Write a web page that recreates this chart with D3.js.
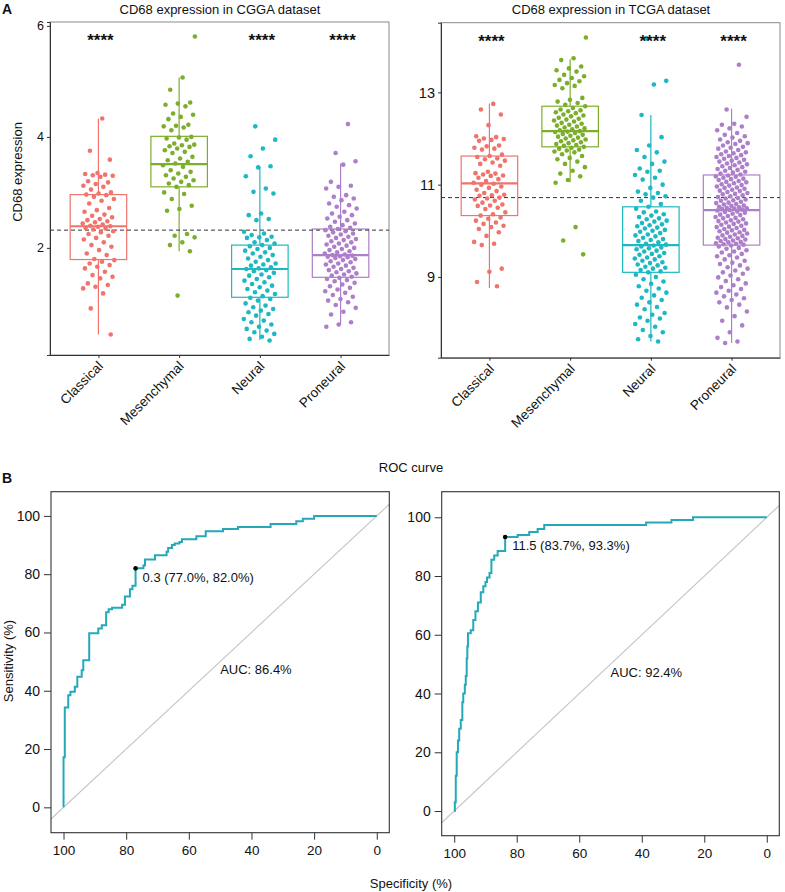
<!DOCTYPE html>
<html><head><meta charset="utf-8">
<script src="https://cdn.jsdelivr.net/npm/d3@7/dist/d3.min.js"></script>
<style>
body{margin:0;background:#fff}
svg{display:block}
text{font-family:"Liberation Sans",Arial,Helvetica,sans-serif;fill:#111}
</style>
</head><body>
<svg id="chart" width="785" height="892"></svg>
<script>
// ---------------- DATA ----------------
const subtypes = ["Classical", "Mesenchymal", "Neural", "Proneural"];
const subtypeColors = ["#F0736C", "#7CAE2C", "#1DB8C2", "#AD7FCA"];

// CGGA CD68 expression per subtype
const cggaClassical = [4.33,3.75,3.59,3.35,3.33,3.32,3.31,3.30,3.28,3.20,3.18,3.15,3.12,3.10,3.05,3.00,2.98,2.96,2.95,2.92,2.88,2.85,2.80,2.72,2.68,2.65,2.60,2.58,2.55,2.52,2.50,2.48,2.46,2.44,2.42,2.40,2.39,2.38,2.36,2.35,2.33,2.30,2.28,2.25,2.22,2.18,2.15,2.10,2.05,2.02,1.96,1.90,1.87,1.80,1.78,1.75,1.72,1.69,1.66,1.63,1.57,1.51,1.48,1.45,1.36,1.33,1.30,1.27,1.18,0.91,0.44];
const cggaMesenchymal = [5.81,5.07,4.85,4.62,4.60,4.58,4.55,4.42,4.40,4.36,4.32,4.22,4.20,4.19,4.17,4.12,4.00,3.99,3.97,3.95,3.88,3.86,3.85,3.83,3.82,3.79,3.76,3.73,3.71,3.64,3.61,3.58,3.55,3.52,3.49,3.46,3.40,3.37,3.34,3.31,3.28,3.25,3.22,3.19,3.16,3.13,3.10,3.00,2.97,2.88,2.76,2.70,2.67,2.25,2.22,2.19,2.10,2.05,1.94,1.14];
const cggaNeural = [4.19,3.95,3.79,3.65,3.47,3.45,3.29,3.07,3.01,2.98,2.62,2.59,2.52,2.50,2.29,2.26,2.23,2.20,2.19,2.18,2.14,2.10,2.08,2.05,2.03,2.00,1.98,1.95,1.92,1.90,1.87,1.84,1.81,1.78,1.75,1.72,1.70,1.68,1.65,1.63,1.62,1.60,1.58,1.55,1.52,1.50,1.47,1.44,1.41,1.38,1.35,1.32,1.29,1.26,1.23,1.20,1.17,1.13,1.10,1.08,1.05,1.00,0.96,0.93,0.90,0.87,0.84,0.81,0.78,0.72,0.69,0.66,0.62,0.58,0.54,0.51,0.48,0.45,0.40,0.36,0.33];
const cggaProneural = [4.23,3.71,3.56,3.50,3.19,3.12,3.10,3.07,2.95,2.92,2.89,2.86,2.80,2.77,2.74,2.71,2.65,2.62,2.59,2.56,2.53,2.50,2.47,2.44,2.41,2.38,2.36,2.34,2.32,2.30,2.28,2.26,2.24,2.22,2.20,2.18,2.16,2.14,2.12,2.10,2.08,2.06,2.04,2.02,2.00,1.98,1.96,1.94,1.92,1.90,1.88,1.87,1.86,1.85,1.84,1.83,1.82,1.80,1.78,1.76,1.74,1.72,1.70,1.68,1.66,1.64,1.62,1.60,1.58,1.56,1.54,1.52,1.50,1.48,1.46,1.44,1.42,1.40,1.37,1.34,1.31,1.28,1.25,1.22,1.19,1.15,1.12,1.08,1.05,1.02,0.97,0.92,0.85,0.80,0.66,0.62,0.58];
// box statistics: lower whisker, Q1, median, Q3, upper whisker
const cggaLow = [0.44, 1.94, 0.34, 0.61];
const cggaQ1 = [1.79, 3.10, 1.11, 1.47];
const cggaMedian = [2.39, 3.51, 1.62, 1.87];
const cggaQ3 = [2.96, 4.01, 2.05, 2.34];
const cggaHigh = [4.33, 5.07, 3.46, 3.52];
const cggaSignif = ["****", "", "****", "****"];
const cggaCutoff = 2.32;
const cggaTicks = [2, 4, 6];

// TCGA CD68 expression per subtype
const tcgaClassical = [12.75,12.63,12.52,12.29,12.05,12.03,12.00,11.99,11.97,11.95,11.85,11.83,11.80,11.78,11.76,11.65,11.62,11.60,11.57,11.55,11.52,11.48,11.45,11.41,11.28,11.25,11.24,11.22,11.20,11.19,11.15,11.12,11.08,11.04,11.02,11.00,10.96,10.93,10.89,10.86,10.82,10.78,10.77,10.76,10.72,10.70,10.68,10.65,10.61,10.57,10.55,10.54,10.50,10.47,10.40,10.36,10.33,10.29,10.26,10.22,10.18,10.15,10.11,10.08,10.04,9.97,9.89,9.76,9.72,9.69,9.18,9.11,8.89,8.80];
const tcgaMesenchymal = [14.19,13.74,13.70,13.56,13.52,13.48,13.45,13.38,13.35,13.31,13.27,13.24,13.20,13.16,13.14,13.09,12.88,12.84,12.80,12.77,12.73,12.70,12.66,12.63,12.61,12.59,12.57,12.55,12.52,12.50,12.48,12.45,12.43,12.41,12.39,12.37,12.34,12.32,12.30,12.28,12.26,12.24,12.22,12.20,12.18,12.16,12.15,12.14,12.12,12.10,12.08,12.06,12.04,12.02,12.00,11.98,11.96,11.94,11.92,11.90,11.88,11.86,11.84,11.82,11.80,11.78,11.76,11.74,11.72,11.70,11.66,11.62,11.58,11.55,11.50,11.45,11.38,11.30,11.24,11.18,11.10,11.04,10.08,9.79,9.49];
const tcgaNeural = [14.17,13.25,13.17,12.51,12.03,11.85,11.75,11.70,11.60,11.50,11.45,11.35,11.30,11.28,11.21,11.15,11.11,11.00,10.93,10.85,10.82,10.79,10.75,10.72,10.65,10.58,10.52,10.48,10.42,10.40,10.36,10.33,10.30,10.27,10.25,10.22,10.20,10.17,10.14,10.12,10.10,10.07,10.05,10.02,10.00,9.98,9.95,9.92,9.90,9.88,9.85,9.82,9.80,9.78,9.75,9.72,9.70,9.68,9.66,9.64,9.62,9.60,9.57,9.55,9.52,9.50,9.48,9.45,9.42,9.40,9.38,9.35,9.32,9.30,9.27,9.25,9.22,9.20,9.18,9.15,9.12,9.10,9.05,9.00,8.95,8.90,8.85,8.80,8.75,8.70,8.66,8.60,8.55,8.50,8.45,8.40,8.35,8.30,8.22,8.18,8.12,8.10,8.05,7.98,7.92,7.85,7.80,7.72,7.65,7.60];
const tcgaProneural = [13.60,12.63,12.47,12.32,12.30,12.26,12.22,12.18,12.12,12.08,12.05,12.02,11.98,11.95,11.92,11.90,11.88,11.85,11.82,11.80,11.78,11.75,11.72,11.70,11.68,11.66,11.64,11.62,11.60,11.58,11.56,11.54,11.52,11.50,11.48,11.46,11.44,11.42,11.40,11.38,11.36,11.34,11.32,11.30,11.28,11.26,11.24,11.22,11.20,
  11.18,11.17,11.15,11.13,11.12,11.10,11.08,11.06,11.05,11.03,11.01,10.99,10.98,10.96,10.94,10.93,10.91,10.89,10.87,10.86,10.84,10.82,10.80,10.79,10.77,10.75,10.73,10.71,10.70,10.68,10.66,10.65,10.63,10.61,10.60,10.58,10.57,10.55,10.54,10.52,10.51,10.50,10.49,10.48,10.47,10.46,10.45,
  10.44,10.42,10.41,10.39,10.37,10.35,10.34,10.32,10.30,10.28,10.27,10.25,10.23,10.21,10.20,10.18,10.16,10.15,10.13,10.11,10.09,10.08,10.06,10.04,10.02,10.01,9.99,9.97,9.96,9.94,9.92,9.90,9.89,9.87,9.85,9.84,9.82,9.81,9.79,9.78,9.76,9.75,9.73,9.72,9.71,9.70,
  9.68,9.66,9.63,9.61,9.58,9.55,9.53,9.50,9.47,9.45,9.42,9.38,9.35,9.31,9.28,9.25,9.21,9.18,9.14,9.10,9.07,9.03,8.99,8.95,8.91,8.86,8.82,8.78,8.74,8.70,8.66,8.62,8.58,8.54,8.50,8.45,8.40,8.34,8.25,8.15,8.05,7.95,7.80,7.68,7.60,7.57];
const tcgaLow = [8.76, 11.05, 7.60, 7.57];
const tcgaQ1 = [10.33, 11.82, 9.10, 9.69];
const tcgaMedian = [11.03, 12.16, 9.69, 10.45];
const tcgaQ3 = [11.62, 12.70, 10.52, 11.21];
const tcgaHigh = [12.76, 13.72, 12.51, 12.65];
const tcgaSignif = ["****", "", "****", "****"];
const tcgaCutoff = 10.72;
const tcgaTicks = [9, 11, 13];

// ROC curves: specificity (%) where sensitivity rises, and sensitivity (%) reached
const rocCggaSpec = [100,100,99.6,98.5,97.8,96.4,95.6,94.2,93.7,91.8,88.9,87.8,86.4,85.6,84.5,81.3,80.4,78.8,78.0,77.0,74.5,74.0,70.8,67.1,66.6,65.4,64.5,63.0,62.2,57.6,54.6,49.1,44.3,33.9,25.7,23.6,20.0,0];
const rocCggaSens = [0,17.2,34.3,38.5,39.7,41.4,44.8,47.0,50.5,59.7,61.4,62.5,66.9,68.0,68.5,69.5,72.3,74.8,76.0,82.0,83.0,85.0,86.5,87.7,89.0,90.0,90.5,91.0,92.0,93.0,94.7,95.5,96.2,97.2,98.2,99.0,100,100];
const rocTcgaSpec = [100,99.8,99.5,99.2,98.8,98.4,97.9,97.4,97.1,96.6,96.3,96.0,95.8,95.6,94.7,93.9,93.2,92.4,91.5,90.7,90.0,89.5,88.7,88.1,87.2,86.1,83.7,79.7,76.0,73.3,71.2,38.6,30.5,23.6,0];
const rocTcgaSens = [0,3,12,20,24,28,31,37,40,43,46,52,56,60.5,61.5,65,68,71,74.5,76.5,78,79.5,81,85.5,87,88.5,93.3,94,95,96,97.4,98.2,99.1,100,100];
const rocCggaBest = [77.0, 82.0];
const rocTcgaBest = [83.7, 93.3];
const rocCggaBestLabel = "0.3 (77.0%, 82.0%)";
const rocTcgaBestLabel = "11.5 (83.7%, 93.3%)";
const rocCggaAUC = "AUC: 86.4%";
const rocTcgaAUC = "AUC: 92.4%";
const rocTicks = [0, 20, 40, 60, 80, 100];

// ---------------- DRAW ----------------
const svg = d3.select("#chart");
svg.append("rect").attr("width", 785).attr("height", 892).attr("fill", "#fff");

function boxPanel(o) {
  const g = svg.append("g");
  const x = d3.scalePoint().domain(subtypes).range([o.left, o.right]).padding(0.6);
  const y = d3.scaleLinear().domain(o.yDomain).range([o.bottom, o.top]);
  const step = x.step();
  const bw = step * 0.7;
  g.append("rect").attr("x", o.left).attr("y", o.top).attr("width", o.right - o.left).attr("height", o.bottom - o.top)
    .attr("fill", "none").attr("stroke", "#8a8a8a").attr("stroke-width", 1);
  const ya = g.append("g").attr("transform", `translate(${o.left},0)`)
    .call(d3.axisLeft(y).tickValues(o.ticks).tickSize(3).tickPadding(3).tickFormat(d3.format("d")));
  ya.select(".domain").attr("stroke", "#333");
  ya.selectAll(".tick line").attr("stroke", "#333");
  ya.selectAll("text").style("font-size", o.tickFont + "px").attr("fill", "#222");
  const xa = g.append("g").attr("transform", `translate(0,${o.bottom})`)
    .call(d3.axisBottom(x).tickSize(3).tickSizeOuter(0));
  xa.select(".domain").attr("stroke", "#333");
  xa.selectAll(".tick line").attr("stroke", "#333");
  xa.selectAll("text").style("font-size", "13.5px").attr("fill", "#222")
    .attr("text-anchor", "end").attr("dy", null).attr("y", null)
    .attr("transform", "translate(5,12) rotate(-45)");
  subtypes.forEach((s, k) => {
    const cx = x(s), col = subtypeColors[k];
    g.append("line").attr("x1", cx).attr("x2", cx).attr("y1", y(o.high[k])).attr("y2", y(o.q3[k]))
      .attr("stroke", col).attr("stroke-width", 1.2);
    g.append("line").attr("x1", cx).attr("x2", cx).attr("y1", y(o.q1[k])).attr("y2", y(o.low[k]))
      .attr("stroke", col).attr("stroke-width", 1.2);
    g.append("rect").attr("x", cx - bw / 2).attr("y", y(o.q3[k])).attr("width", bw)
      .attr("height", y(o.q1[k]) - y(o.q3[k])).attr("fill", "none").attr("stroke", col).attr("stroke-width", 1.2);
    g.append("line").attr("x1", cx - bw / 2).attr("x2", cx + bw / 2).attr("y1", y(o.median[k])).attr("y2", y(o.median[k]))
      .attr("stroke", col).attr("stroke-width", 2.2);
  });
  g.append("line").attr("x1", o.left).attr("x2", o.right).attr("y1", y(o.cutoff)).attr("y2", y(o.cutoff))
    .attr("stroke", "#333").attr("stroke-width", 1).attr("stroke-dasharray", "4,3");
  o.values.forEach((vals, k) => {
    const cx = x(subtypes[k]);
    g.selectAll(null).data(vals).enter().append("circle")
      .attr("cx", (d, i) => cx + ((((i + 1) * 0.6180339887 + k * 0.37) % 1) - 0.5) * 0.4 * step)
      .attr("cy", d => y(d)).attr("r", 2.3).attr("fill", subtypeColors[k]);
  });
  subtypes.forEach((s, k) => {
    if (!o.signif[k]) return;
    g.append("text").attr("x", x(s) + 2).attr("y", o.top + 24).attr("text-anchor", "middle")
      .style("font-size", "17px").style("font-weight", "bold").text(o.signif[k]);
  });
  g.append("text").attr("x", o.titleX).attr("y", 14).attr("text-anchor", "middle")
    .style("font-size", "13px").text(o.title);
}

boxPanel({left: 50, right: 389, top: 22, bottom: 355, yDomain: [0.07, 6.07], ticks: cggaTicks, tickFont: 12.5,
  values: [cggaClassical, cggaMesenchymal, cggaNeural, cggaProneural],
  low: cggaLow, q1: cggaQ1, median: cggaMedian, q3: cggaQ3, high: cggaHigh, signif: cggaSignif, cutoff: cggaCutoff,
  title: "CD68 expression in CGGA dataset", titleX: 220});
boxPanel({left: 441, right: 780, top: 22.7, bottom: 357.7, yDomain: [7.25, 14.51], ticks: tcgaTicks, tickFont: 14.5,
  values: [tcgaClassical, tcgaMesenchymal, tcgaNeural, tcgaProneural],
  low: tcgaLow, q1: tcgaQ1, median: tcgaMedian, q3: tcgaQ3, high: tcgaHigh, signif: tcgaSignif, cutoff: tcgaCutoff,
  title: "CD68 expression in TCGA dataset", titleX: 611});

svg.append("text").attr("transform", "translate(22,172) rotate(-90)").attr("text-anchor", "middle")
  .style("font-size", "13px").text("CD68 expression");
svg.append("text").attr("x", 2).attr("y", 14).style("font-size", "14px").style("font-weight", "bold").text("A");
svg.append("text").attr("x", 2).attr("y", 483).style("font-size", "14px").style("font-weight", "bold").text("B");

function rocPanel(o) {
  const g = svg.append("g");
  const x = d3.scaleLinear().domain([104, -4]).range([o.left, o.right]);
  const y = d3.scaleLinear().domain(o.yDomain).range([o.bottom, o.top]);
  g.append("line").attr("x1", x(104)).attr("y1", y(-4)).attr("x2", x(-4)).attr("y2", y(104))
    .attr("stroke", "#c4c4c4").attr("stroke-width", 1.1);
  const pts = o.spec.map((s, i) => [s, o.sens[i]]);
  g.append("path").datum(pts)
    .attr("d", d3.line().x(d => x(d[0])).y(d => y(d[1])).curve(d3.curveStepAfter))
    .attr("fill", "none").attr("stroke", "#25A9B8").attr("stroke-width", 2);
  g.append("circle").attr("cx", x(o.best[0])).attr("cy", y(o.best[1])).attr("r", 2.3).attr("fill", "#000");
  g.append("text").attr("x", x(o.best[0]) + 7).attr("y", y(o.best[1]) + 13.5)
    .style("font-size", "13px").text(o.bestLabel);
  g.append("text").attr("x", x(50)).attr("y", y(45) - 2).style("font-size", "13px").text(o.auc);
  g.append("rect").attr("x", o.left).attr("y", o.top).attr("width", o.right - o.left).attr("height", o.bottom - o.top)
    .attr("fill", "none").attr("stroke", "#333").attr("stroke-width", 1.1);
  const ya = g.append("g").attr("transform", `translate(${o.left},0)`)
    .call(d3.axisLeft(y).tickValues(rocTicks).tickSize(7).tickPadding(4).tickSizeOuter(0));
  ya.select(".domain").remove();
  ya.selectAll(".tick line").attr("stroke", "#333");
  ya.selectAll("text").style("font-size", "14px").attr("fill", "#222");
  const xa = g.append("g").attr("transform", `translate(0,${o.bottom})`)
    .call(d3.axisBottom(x).tickValues(rocTicks).tickSize(7).tickPadding(6).tickSizeOuter(0));
  xa.select(".domain").remove();
  xa.selectAll(".tick line").attr("stroke", "#333");
  xa.selectAll("text").style("font-size", "13.5px").attr("fill", "#222");
}

rocPanel({left: 51, right: 389.3, top: 491.7, bottom: 832.7, yDomain: [-8.7, 108.3],
  spec: rocCggaSpec, sens: rocCggaSens, best: rocCggaBest, bestLabel: rocCggaBestLabel, auc: rocCggaAUC});
rocPanel({left: 441.7, right: 779.3, top: 491.7, bottom: 835.7, yDomain: [-8.4, 108.7],
  spec: rocTcgaSpec, sens: rocTcgaSens, best: rocTcgaBest, bestLabel: rocTcgaBestLabel, auc: rocTcgaAUC});

svg.append("text").attr("x", 411).attr("y", 472).attr("text-anchor", "middle").style("font-size", "13px").text("ROC curve");
svg.append("text").attr("x", 411).attr("y", 888).attr("text-anchor", "middle").style("font-size", "13px").text("Specificity (%)");
svg.append("text").attr("transform", "translate(13,661) rotate(-90)").attr("text-anchor", "middle")
  .style("font-size", "13px").text("Sensitivity (%)");
</script>
</body></html>
